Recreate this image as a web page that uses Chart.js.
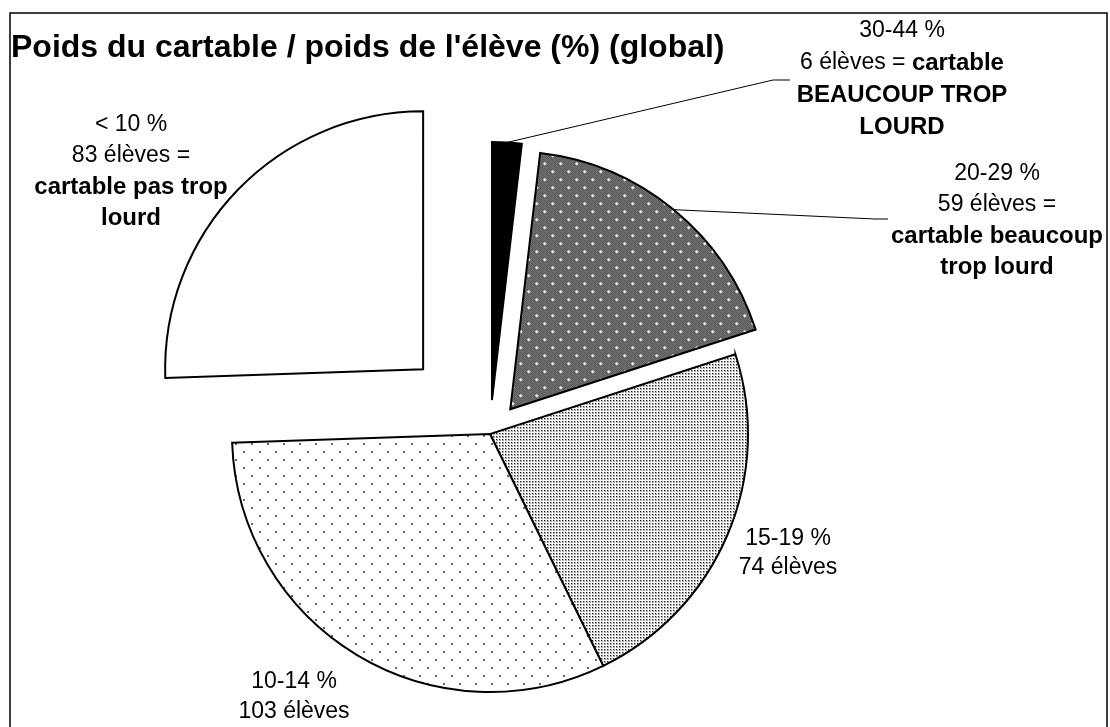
<!DOCTYPE html>
<html>
<head>
<meta charset="utf-8">
<script src="https://cdn.jsdelivr.net/npm/chart.js@4/dist/chart.umd.min.js"></script>
<style>
  html, body { margin: 0; padding: 0; background: #fff; }
  #wrap { width: 1110px; height: 727px; position: relative; }
</style>
</head>
<body>
<div id="wrap"><canvas id="pieChart"></canvas></div>
<script>
// Data (clockwise from 12 o'clock, like the original)
const categories = ["30-44 %", "20-29 %", "15-19 %", "10-14 %", "< 10 %"];
const eleves = [6, 59, 74, 103, 83];

// how far each slice is pulled out (px)
const explode = [34, 32, 0, 0, 93];

const FONT = "'Liberation Sans', Arial, sans-serif";

// fill patterns
function makePattern(w, h, paint) {
  const c = document.createElement("canvas");
  c.width = w; c.height = h;
  const g = c.getContext("2d");
  paint(g);
  return document.createElement("canvas").getContext("2d").createPattern(c, "repeat");
}

const darkCross = makePattern(16, 16, g => {
  for (let y = 0; y < 16; y++) {
    for (let x = 0; x < 16; x++) {
      g.fillStyle = (x + y) % 2 ? "#333" : "#999";
      g.fillRect(x, y, 1, 1);
    }
  }
  g.fillStyle = "#fff";
  [[4, 4], [12, 12]].forEach(([x, y]) => {
    g.fillRect(x - 1, y, 3, 1);
    g.fillRect(x, y - 1, 1, 3);
  });
});

const fineGrid = makePattern(3, 3, g => {
  g.fillStyle = "#fff";
  g.fillRect(0, 0, 3, 3);
  g.fillStyle = "#aaa";
  g.fillRect(1, 1, 2, 2);
  g.fillStyle = "#222";
  g.fillRect(1, 1, 1, 1);
});

const sparseDots = makePattern(16, 16, g => {
  g.fillStyle = "#fff";
  g.fillRect(0, 0, 16, 16);
  g.fillStyle = "#666";
  g.fillRect(3, 3, 2, 2);
  g.fillRect(11, 11, 2, 2);
});

const fills = ["#000", darkCross, fineGrid, sparseDots, "#fff"];

// draw exploded slices ourselves (Chart.js offset also grows thin slices)
const explodePlugin = {
  id: "explode",
  beforeDatasetDraw(chart, args) {
    const ctx = chart.ctx;
    args.meta.data.forEach((arc, i) => {
      const mid = (arc.startAngle + arc.endAngle) / 2;
      ctx.save();
      ctx.translate(Math.cos(mid) * explode[i], Math.sin(mid) * explode[i]);
      arc.draw(ctx);
      ctx.restore();
    });
    return false;
  }
};

// slice outer point at mid angle, after explosion
function outerPoint(arc, i) {
  const mid = (arc.startAngle + arc.endAngle) / 2;
  const r = arc.outerRadius + explode[i];
  return [arc.x + Math.cos(mid) * r, arc.y + Math.sin(mid) * r];
}

function centeredRuns(ctx, runs, cx, y) {
  let total = 0;
  runs.forEach(r => { ctx.font = r.font; r.w = ctx.measureText(r.text).width; total += r.w; });
  let x = cx - total / 2;
  runs.forEach(r => {
    ctx.font = r.font;
    ctx.textAlign = "left";
    ctx.fillText(r.text, x, y);
    x += r.w;
  });
}

const N = "23px " + FONT;
const B = "bold 24px " + FONT;

const labelBlocks = [
  { cx: 902, lines: [
    [{ text: "30-44 %", font: N }],
    [{ text: "6 élèves = ", font: N }, { text: "cartable", font: B }],
    [{ text: "BEAUCOUP TROP", font: B }],
    [{ text: "LOURD", font: B }]
  ], ys: [31, 63, 95, 127] },
  { cx: 997, lines: [
    [{ text: "20-29 %", font: N }],
    [{ text: "59 élèves =", font: N }],
    [{ text: "cartable beaucoup", font: B }],
    [{ text: "trop lourd", font: B }]
  ], ys: [174, 205, 236, 267] },
  { cx: 788, lines: [
    [{ text: "15-19 %", font: N }],
    [{ text: "74 élèves", font: N }]
  ], ys: [539, 568] },
  { cx: 294, lines: [
    [{ text: "10-14 %", font: N }],
    [{ text: "103 élèves", font: N }]
  ], ys: [682, 712] },
  { cx: 131, lines: [
    [{ text: "< 10 %", font: N }],
    [{ text: "83 élèves =", font: N }],
    [{ text: "cartable pas trop", font: B }],
    [{ text: "lourd", font: B }]
  ], ys: [125, 156, 187, 218] }
];

// leader line ends: [elbow x, elbow y, end x]
const leaders = { 0: [773, 80, 790], 1: [875, 219, 888] };

const annotations = {
  id: "annotations",
  afterDraw(chart) {
    const ctx = chart.ctx;
    const arcs = chart.getDatasetMeta(0).data;
    ctx.save();

    // frame
    ctx.strokeStyle = "#000";
    ctx.lineWidth = 1.5;
    ctx.strokeRect(10, 13, 1097, 730);

    // title
    ctx.fillStyle = "#000";
    ctx.textBaseline = "middle";
    ctx.textAlign = "left";
    ctx.font = "bold 32px " + FONT;
    ctx.fillText("Poids du cartable / poids de l'élève (%) (global)", 11, 48);

    // leader lines
    ctx.lineWidth = 1;
    Object.keys(leaders).forEach(k => {
      const [p0x, p0y] = outerPoint(arcs[k], k);
      const [ex, ey, tx] = leaders[k];
      ctx.beginPath();
      ctx.moveTo(p0x, p0y);
      ctx.lineTo(ex, ey);
      ctx.lineTo(tx, ey);
      ctx.stroke();
    });

    // labels
    labelBlocks.forEach(b => {
      b.lines.forEach((runs, j) => centeredRuns(ctx, runs, b.cx, b.ys[j]));
    });
    ctx.restore();
  }
};

new Chart(document.getElementById("pieChart"), {
  type: "pie",
  data: {
    labels: categories,
    datasets: [{
      data: eleves,
      backgroundColor: fills,
      borderColor: "#000",
      borderWidth: 2,
      borderJoinStyle: "miter"
    }]
  },
  options: {
    responsive: true,
    maintainAspectRatio: false,
    animation: false,
    radius: 258,
    layout: { padding: { left: 0, right: 130, top: 141, bottom: 0 } },
    plugins: {
      legend: { display: false },
      tooltip: { enabled: false }
    }
  },
  plugins: [explodePlugin, annotations]
});
</script>
</body>
</html>
